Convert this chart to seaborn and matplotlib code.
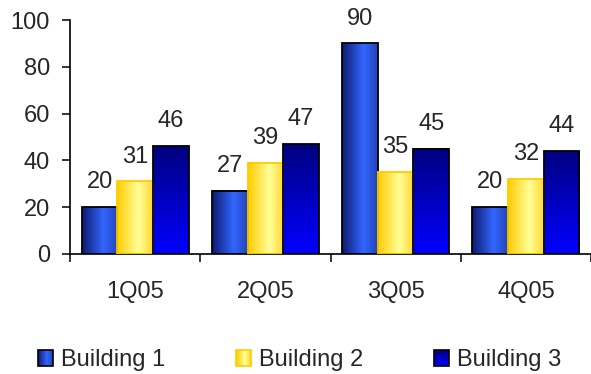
import numpy as np
import pandas as pd
import matplotlib
matplotlib.use("Agg")
import matplotlib.pyplot as plt
import seaborn as sns
from matplotlib.colors import LinearSegmentedColormap
from matplotlib.patches import Patch
from matplotlib.image import BboxImage
from matplotlib.transforms import Bbox, TransformedBbox
from matplotlib.legend_handler import HandlerBase

quarters = ["1Q05", "2Q05", "3Q05", "4Q05"]
buildings = ["Building 1", "Building 2", "Building 3"]
building1 = [20, 27, 90, 20]
building2 = [31, 39, 35, 32]
building3 = [46, 47, 45, 44]
y_ticks = [0, 20, 40, 60, 80, 100]

df = pd.DataFrame({
    "quarter": quarters * 3,
    "building": sum([[b] * 4 for b in buildings], []),
    "value": building1 + building2 + building3,
})

sns.set_theme(style="white")
plt.rcParams["font.family"] = ["Liberation Sans", "DejaVu Sans"]
FS = 17

# gradient fills (direction, colour stops) and outline colour per series
fills = {
    "Building 1": ("h", [(0.0, "#0d1a70"), (0.6, "#3366ff"), (1.0, "#2244b8")], "black"),
    "Building 2": ("h", [(0.0, "#ffcc00"), (0.6, "#ffff99"), (1.0, "#ffd633")], "#ffcc00"),
    "Building 3": ("v", [(0.0, "#0000ff"), (1.0, "#000080")], "black"),
}


def gradient_array(direction, stops, n=128):
    cmap = LinearSegmentedColormap.from_list("g", stops)
    ramp = np.linspace(0, 1, n)
    if direction == "h":
        return cmap(ramp)[None, :, :]
    return cmap(ramp)[:, None, :]


fig = plt.figure(figsize=(5.91, 3.74), dpi=100)
ax = fig.add_axes([70 / 591, 1 - 254 / 374, 521 / 591, 234 / 374])

sns.barplot(data=df, x="quarter", y="value", hue="building", order=quarters,
            hue_order=buildings, width=0.82, ax=ax, legend=False,
            palette=["#3366ff", "#ffff99", "#0000cc"])

for container, name in zip(ax.containers, buildings):
    direction, stops, edge = fills[name]
    img = gradient_array(direction, stops)
    for bar in container:
        x0, y0 = bar.get_x(), bar.get_y()
        w, h = bar.get_width(), bar.get_height()
        ax.imshow(img, extent=(x0, x0 + w, y0, y0 + h), aspect="auto",
                  origin="lower", zorder=2, interpolation="bilinear")
        bar.set_facecolor("none")
        bar.set_edgecolor(edge)
        bar.set_linewidth(1.3)
        bar.set_zorder(3)
    ax.bar_label(container, fmt="%d", padding=10, fontsize=FS)

ax.set_xlim(-0.5, 3.5)
ax.set_ylim(0, 100)
ax.set_yticks(y_ticks)
ax.set_xlabel("")
ax.set_ylabel("")

# labels at group centres, tick marks at group boundaries
ax.set_xticks(range(len(quarters)))
ax.set_xticklabels(quarters)
ax.set_xticks([-0.5, 0.5, 1.5, 2.5, 3.5], minor=True)
ax.tick_params(axis="x", which="major", length=0, pad=19.5, labelsize=FS)
ax.tick_params(axis="x", which="minor", length=6, width=1.1, direction="out",
               color="black", bottom=True)
ax.tick_params(axis="y", length=5.5, width=1.1, direction="out", color="black",
               pad=9, labelsize=FS, left=True)

for side in ["top", "right"]:
    ax.spines[side].set_visible(False)
for side in ["left", "bottom"]:
    ax.spines[side].set_color("black")
    ax.spines[side].set_linewidth(1.2)
ax.set_facecolor("white")


class GradientHandler(HandlerBase):
    def __init__(self, direction, stops, edge):
        super().__init__()
        self.img = gradient_array(direction, stops, 32)
        self.edge = edge

    def create_artists(self, legend, orig_handle, xdescent, ydescent,
                       width, height, fontsize, trans):
        bb = TransformedBbox(Bbox.from_bounds(-xdescent, -ydescent, width, height), trans)
        image = BboxImage(bb, origin="lower", interpolation="bilinear")
        image.set_data(self.img)
        frame = plt.Rectangle((-xdescent, -ydescent), width, height,
                              facecolor="none", edgecolor=self.edge,
                              linewidth=1.2, transform=trans)
        return [image, frame]


handles = [Patch(label=b) for b in buildings]
handler_map = {h: GradientHandler(*fills[b]) for h, b in zip(handles, buildings)}
fig.legend(handles=handles, labels=buildings, handler_map=handler_map,
           loc="center", bbox_to_anchor=(0.507, 0.037), ncol=3, frameon=False,
           fontsize=FS, handlelength=0.62, handleheight=0.62,
           handletextpad=0.34, columnspacing=3.0, borderpad=0)

fig.savefig("out.png", dpi=100, facecolor="white")
